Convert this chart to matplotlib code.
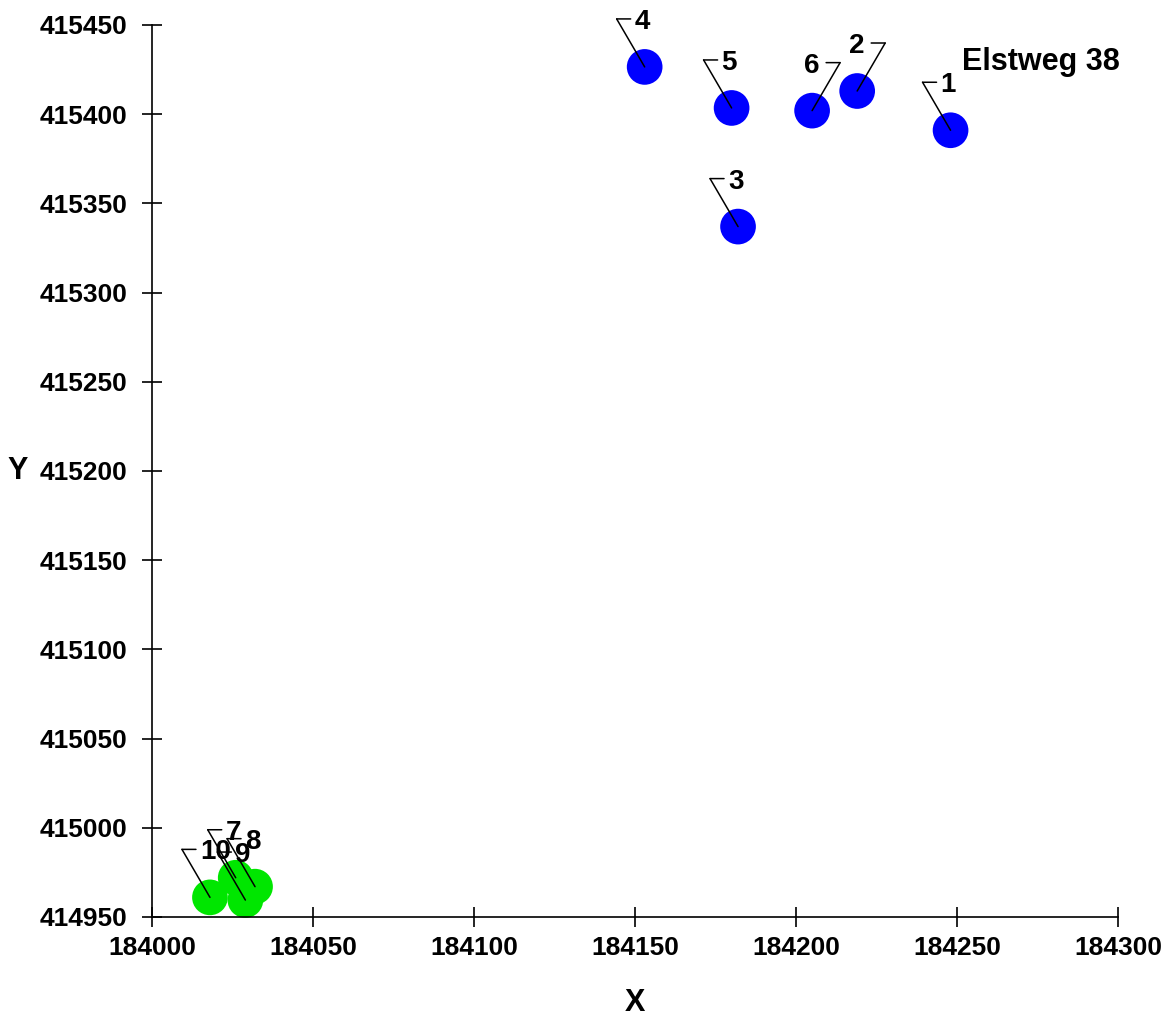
import matplotlib
matplotlib.use("Agg")
import matplotlib.pyplot as plt
from matplotlib.transforms import offset_copy

# point labels and coordinates
labels = ["1", "2", "3", "4", "5", "6", "7", "8", "9", "10"]
x = [184248, 184219, 184182, 184153, 184180, 184205, 184026, 184032, 184029, 184018]
y = [415391, 415413, 415337, 415426.5, 415403.5, 415402, 414972, 414967, 414959.5, 414961]
group = ["a", "a", "a", "a", "a", "a", "b", "b", "b", "b"]
# which side the label sits on (+1 right of the hook, -1 left of it)
side = [1, -1, 1, 1, 1, -1, 1, 1, 1, 1]

colors = {"a": "#0000FF", "b": "#00E600"}
title_text = "Elstweg 38"

xticks = [184000, 184050, 184100, 184150, 184200, 184250, 184300]
yticks = [414950, 415000, 415050, 415100, 415150, 415200, 415250, 415300, 415350, 415400, 415450]

tick_font = ["Liberation Sans Narrow", "Liberation Sans", "DejaVu Sans"]
text_font = ["Liberation Sans", "DejaVu Sans"]

fig = plt.figure(figsize=(11.62, 10.17), dpi=100)
ax = fig.add_axes([152 / 1162, 1 - 917 / 1017, (1118 - 152) / 1162, (917 - 25) / 1017])

ax.scatter(x, y, s=660, c=[colors[g] for g in group], edgecolors="none", zorder=2, clip_on=False)

# labels with little leader brackets
for lab, px, py, sd in zip(labels, x, y, side):
    cx, cy = -sd * 28, 48
    ax.annotate("", xy=(px, py), xytext=(cx, cy), textcoords="offset pixels",
                arrowprops=dict(arrowstyle="-", lw=1.1, color="black", shrinkA=0, shrinkB=0), zorder=3)
    corner = offset_copy(ax.transData, fig=fig, x=cx, y=cy, units="dots")
    ax.annotate("", xy=(px, py), xycoords=corner, xytext=(sd * 14, 0), textcoords="offset pixels",
                arrowprops=dict(arrowstyle="-", lw=1.1, color="black", shrinkA=0, shrinkB=0), zorder=3)
    tx = cx + sd * 18 if sd > 0 else cx + sd * 21
    ax.annotate(lab, xy=(px, py), xytext=(tx, cy - 10), textcoords="offset pixels",
                ha="left" if sd > 0 else "right", va="baseline",
                fontsize=20, fontweight="bold", family=text_font, zorder=4)

ax.text(184251.5, 415429, title_text, ha="left", va="center", fontsize=22,
        fontweight="bold", family=text_font)

ax.set_xlim(184000, 184300)
ax.set_ylim(414950, 415450)
ax.set_xticks(xticks)
ax.set_yticks(yticks)
ax.set_xticklabels([str(v) for v in xticks], fontsize=19, fontweight="bold", family=tick_font)
ax.set_yticklabels([str(v) for v in yticks], fontsize=19, fontweight="bold", family=tick_font)
ax.tick_params(direction="inout", length=15, width=1.2)
ax.tick_params(axis="x", pad=6)
ax.tick_params(axis="y", pad=10)

for s in ["top", "right"]:
    ax.spines[s].set_visible(False)
for s in ["left", "bottom"]:
    ax.spines[s].set_linewidth(1.2)

ax.set_xlabel("X", fontsize=22, fontweight="bold", family=text_font, labelpad=20)
ax.set_ylabel("Y", fontsize=22, fontweight="bold", family=text_font, rotation=0, labelpad=16, va="center")

fig.savefig("out.png", dpi=100)
